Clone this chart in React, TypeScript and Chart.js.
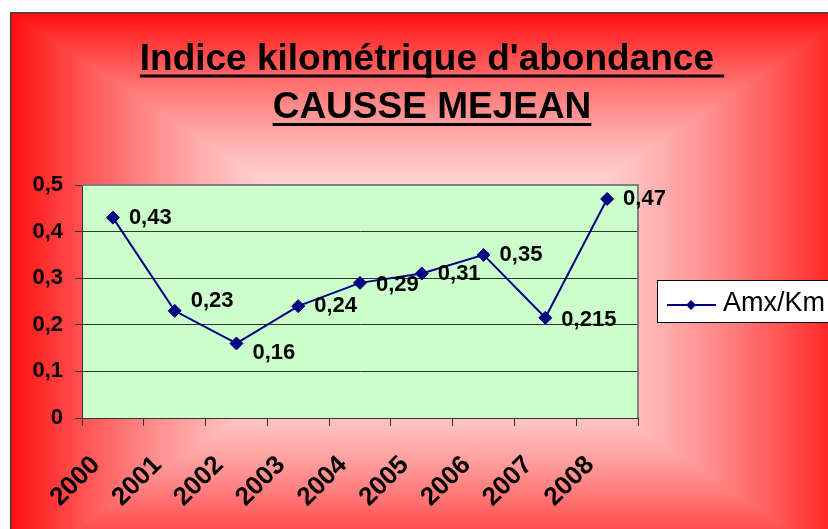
import React, { useEffect, useRef } from 'react';
import { Chart, registerables } from 'chart.js';

Chart.register(...registerables);

// ---- data ----
const years = ['2000', '2001', '2002', '2003', '2004', '2005', '2006', '2007', '2008'];
const amxKm = [0.43, 0.23, 0.16, 0.24, 0.29, 0.31, 0.35, 0.215, 0.47];
const yTickLabels = ['0', '0,1', '0,2', '0,3', '0,4', '0,5'];
const titleLines = ["Indice kilométrique d'abondance ", 'CAUSSE MEJEAN'];
const seriesName = 'Amx/Km';

// ---- layout / style constants ----
const CW = 844;
const CH = 560;
const FONT = "'Liberation Sans', Arial, sans-serif";
const LINE_COLOR = '#000080';
const LABEL_NUDGE_Y = [0, -10, 9, 0, 2, 0, 0, 2, 0];

const fmt = (v: number) => String(v).replace('.', ',');

let bgCache: ImageData | null = null;

const backgroundPlugin = {
  id: 'bgPlugin',
  beforeDraw(chart: any) {
    const ctx = chart.ctx as CanvasRenderingContext2D;
    const w = chart.width;
    const h = chart.height;
    if (!bgCache || bgCache.width !== w || bgCache.height !== h) {
      const img = ctx.createImageData(w, h);
      const cx = w / 2;
      const cy = h / 2;
      for (let y = 0; y < h; y++) {
        const ty = Math.abs(y - cy) / cy;
        for (let x = 0; x < w; x++) {
          const tx = Math.abs(x - cx) / cx;
          const t = Math.min(1, Math.max(tx, ty));
          const f = 0.95 * Math.pow(t, 1.8);
          const g = Math.round(255 * (1 - f));
          const i = (y * w + x) * 4;
          img.data[i] = 255;
          img.data[i + 1] = g;
          img.data[i + 2] = g;
          img.data[i + 3] = 255;
        }
      }
      bgCache = img;
    }
    ctx.putImageData(bgCache, 0, 0);
    // frame border
    ctx.save();
    ctx.strokeStyle = '#404040';
    ctx.lineWidth = 1.5;
    ctx.beginPath();
    ctx.moveTo(0.75, h);
    ctx.lineTo(0.75, 0.75);
    ctx.lineTo(w, 0.75);
    ctx.stroke();
    // plot area fill
    const a = chart.chartArea;
    ctx.fillStyle = '#CCFFCC';
    ctx.fillRect(a.left, a.top, a.right - a.left, a.bottom - a.top);
    ctx.restore();
  },
  beforeDatasetsDraw(chart: any) {
    const ctx = chart.ctx as CanvasRenderingContext2D;
    const a = chart.chartArea;
    ctx.save();
    ctx.strokeStyle = '#808080';
    ctx.lineWidth = 2;
    ctx.beginPath();
    ctx.moveTo(a.left, a.top);
    ctx.lineTo(a.right, a.top);
    ctx.lineTo(a.right, a.bottom);
    ctx.stroke();
    ctx.restore();
  },
  afterDatasetsDraw(chart: any) {
    const ctx = chart.ctx as CanvasRenderingContext2D;
    const meta = chart.getDatasetMeta(0);
    const data = chart.data.datasets[0].data as number[];
    ctx.save();
    ctx.font = `bold 22px ${FONT}`;
    ctx.fillStyle = '#000000';
    ctx.textAlign = 'left';
    ctx.textBaseline = 'middle';
    meta.data.forEach((p: any, i: number) => {
      ctx.fillText(fmt(data[i]), p.x + 16, p.y + (LABEL_NUDGE_Y[i] || 0));
    });
    ctx.restore();
  },
  afterDraw(chart: any) {
    const ctx = chart.ctx as CanvasRenderingContext2D;
    ctx.save();
    // title
    ctx.font = `bold 37px ${FONT}`;
    ctx.fillStyle = '#000000';
    ctx.textAlign = 'left';
    ctx.textBaseline = 'alphabetic';
    const cx = chart.width / 2;
    const baselines = [57.5, 106];
    titleLines.forEach((line, i) => {
      const w = ctx.measureText(line).width;
      const x = cx - w / 2;
      ctx.fillText(line, x, baselines[i]);
      ctx.fillRect(x, baselines[i] + 5, w, 3);
    });
    // legend
    const ds = chart.data.datasets[0];
    const lx = 647.5, ly = 268.5, lw = 230, lh = 42;
    ctx.fillStyle = '#ffffff';
    ctx.fillRect(lx, ly, lw, lh);
    ctx.strokeStyle = '#000000';
    ctx.lineWidth = 1;
    ctx.strokeRect(lx, ly, lw, lh);
    const my = ly + lh / 2 + 3.5;
    ctx.strokeStyle = ds.borderColor;
    ctx.lineWidth = 2;
    ctx.beginPath();
    ctx.moveTo(657, my);
    ctx.lineTo(706, my);
    ctx.stroke();
    ctx.fillStyle = ds.backgroundColor;
    ctx.beginPath();
    const r = 5;
    ctx.moveTo(681, my - r);
    ctx.lineTo(681 + r, my);
    ctx.lineTo(681, my + r);
    ctx.lineTo(681 - r, my);
    ctx.closePath();
    ctx.fill();
    ctx.fillStyle = '#000000';
    ctx.font = `27px ${FONT}`;
    ctx.textBaseline = 'alphabetic';
    ctx.fillText(ds.label, 713, 298.5);
    ctx.restore();
  },
};

export default function App() {
  const ref = useRef<HTMLCanvasElement | null>(null);
  useEffect(() => {
    if (!ref.current) return;
    const chart = new Chart(ref.current, {
      type: 'line',
      data: {
        labels: years,
        datasets: [
          {
            label: seriesName,
            data: amxKm,
            borderColor: LINE_COLOR,
            backgroundColor: LINE_COLOR,
            borderWidth: 2,
            pointStyle: 'rectRot',
            pointRadius: 6.5,
            pointBackgroundColor: LINE_COLOR,
            pointBorderColor: LINE_COLOR,
            pointBorderWidth: 1,
            tension: 0,
            clip: false as any,
          },
        ],
      },
      options: {
        responsive: false,
        animation: false,
        devicePixelRatio: 1,
        layout: { padding: { left: 0, top: 173, right: CW - 628, bottom: 0 } },
        plugins: {
          legend: { display: false },
          title: { display: false },
          tooltip: { enabled: false },
        },
        scales: {
          x: {
            type: 'category',
            offset: true,
            afterFit: (s: any) => {
              s.height = CH - 406;
            },
            grid: {
              display: true,
              offset: true,
              drawOnChartArea: false,
              drawTicks: true,
              tickLength: 8,
              color: '#333333',
              lineWidth: 1,
            },
            border: { display: true, color: '#333333', width: 1 },
            ticks: {
              autoSkip: false,
              minRotation: 45,
              maxRotation: 45,
              padding: 24,
              labelOffset: -17,
              color: '#000000',
              font: { family: FONT, size: 26, weight: 'bold' },
            },
          },
          y: {
            min: 0,
            max: 0.5,
            afterFit: (s: any) => {
              s.width = 72;
            },
            grid: {
              display: true,
              drawTicks: true,
              tickLength: 7,
              color: '#333333',
              lineWidth: 1,
            },
            border: { display: true, color: '#333333', width: 1 },
            ticks: {
              stepSize: 0.1,
              padding: 12,
              color: '#000000',
              font: { family: FONT, size: 22, weight: 'bold' },
              callback: (_v: any, i: number) => yTickLabels[i],
            },
          },
        },
      },
      plugins: [backgroundPlugin],
    } as any);
    return () => chart.destroy();
  }, []);

  return (
    <div
      style={{
        position: 'absolute',
        left: 0,
        top: 0,
        width: 828,
        height: 529,
        overflow: 'hidden',
        background: '#ffffff',
      }}
    >
      <canvas
        ref={ref}
        width={CW}
        height={CH}
        style={{ position: 'absolute', left: 10, top: 12, width: CW, height: CH }}
      />
    </div>
  );
}
